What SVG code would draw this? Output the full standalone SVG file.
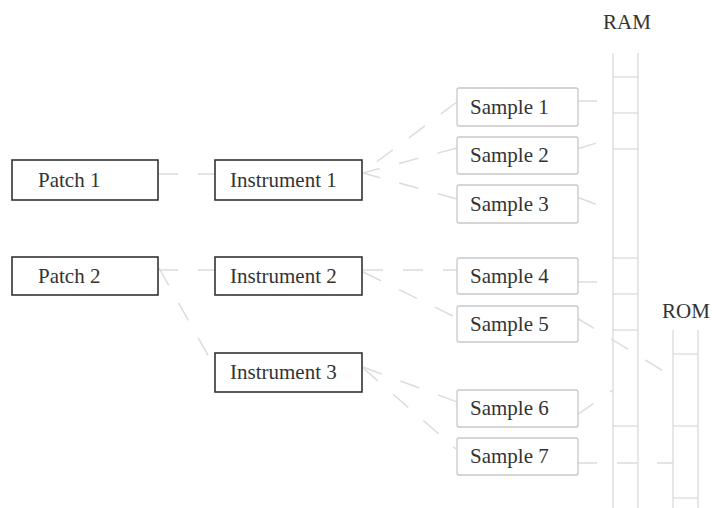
<svg xmlns="http://www.w3.org/2000/svg" width="712" height="508" viewBox="0 0 712 508">
<style>
text{font-family:"Liberation Serif","Times New Roman",serif;font-size:21px;fill:#333}
.dark{fill:#fff;stroke:#333;stroke-width:1.6}
.light{fill:#fff;stroke:#c8c8c8;stroke-width:1.3}
.con{stroke:#dcdcdc;stroke-width:1.5;fill:none;stroke-dasharray:20 20}
.lad{stroke:#e0e0e0;stroke-width:1.5;fill:none}
</style>
<rect width="712" height="508" fill="#fff"/>
<g id="ram">
<text x="603" y="29">RAM</text>
<path class="lad" d="M613 53V508M638 53V508M613 77H638M613 113H638M613 149H638M613 258H638M613 294H638M613 330H638M613 426H638"/>
</g>
<g id="rom">
<text x="662" y="318">ROM</text>
<path class="lad" d="M673 330V508M698 330V508M673 354H698M673 426H698M673 498H698"/>
</g>
<g id="connectors">
<line class="con" x1="158" y1="174" x2="215" y2="174"/>
<line class="con" x1="158" y1="270" x2="215" y2="270"/>
<line class="con" x1="159" y1="268" x2="214" y2="366"/>
<line class="con" x1="457" y1="102" x2="363" y2="172"/>
<line class="con" x1="457" y1="148" x2="363" y2="173"/>
<line class="con" x1="457" y1="199" x2="363" y2="173"/>
<line class="con" x1="363" y1="270" x2="457" y2="270"/>
<line class="con" x1="363" y1="272" x2="457" y2="318"/>
<line class="con" x1="363" y1="367" x2="457" y2="402"/>
<line class="con" x1="363" y1="368" x2="456" y2="449"/>
<line class="con" x1="577" y1="101" x2="613" y2="101"/>
<line class="con" x1="577" y1="149" x2="613" y2="138"/>
<line class="con" x1="577" y1="197" x2="613" y2="211"/>
<line class="con" x1="577" y1="282" x2="613" y2="282"/>
<line class="con" x1="577" y1="318" x2="673" y2="377"/>
<line class="con" x1="577" y1="415" x2="613" y2="390"/>
<line class="con" x1="577" y1="463" x2="673" y2="463"/>
</g>
<g id="patch1"><rect class="dark" x="12" y="160" width="146" height="40"/><text x="38" y="187">Patch 1</text></g>
<g id="patch2"><rect class="dark" x="12" y="257" width="146" height="38"/><text x="38" y="283">Patch 2</text></g>
<g id="instrument1"><rect class="dark" x="215" y="160" width="147" height="40"/><text x="230" y="187">Instrument 1</text></g>
<g id="instrument2"><rect class="dark" x="215" y="257" width="147" height="38"/><text x="230" y="283">Instrument 2</text></g>
<g id="instrument3"><rect class="dark" x="215" y="353" width="147" height="39"/><text x="230" y="379">Instrument 3</text></g>
<g id="sample1"><rect class="light" x="457" y="88" width="121" height="38" rx="2"/><text x="470" y="114">Sample 1</text></g>
<g id="sample2"><rect class="light" x="457" y="137" width="121" height="37" rx="2"/><text x="470" y="162">Sample 2</text></g>
<g id="sample3"><rect class="light" x="457" y="185" width="121" height="38" rx="2"/><text x="470" y="211">Sample 3</text></g>
<g id="sample4"><rect class="light" x="457" y="258" width="121" height="36" rx="2"/><text x="470" y="283">Sample 4</text></g>
<g id="sample5"><rect class="light" x="457" y="306" width="121" height="36" rx="2"/><text x="470" y="331">Sample 5</text></g>
<g id="sample6"><rect class="light" x="457" y="390" width="121" height="37" rx="2"/><text x="470" y="415">Sample 6</text></g>
<g id="sample7"><rect class="light" x="457" y="438" width="121" height="37" rx="2"/><text x="470" y="463">Sample 7</text></g>
</svg>
